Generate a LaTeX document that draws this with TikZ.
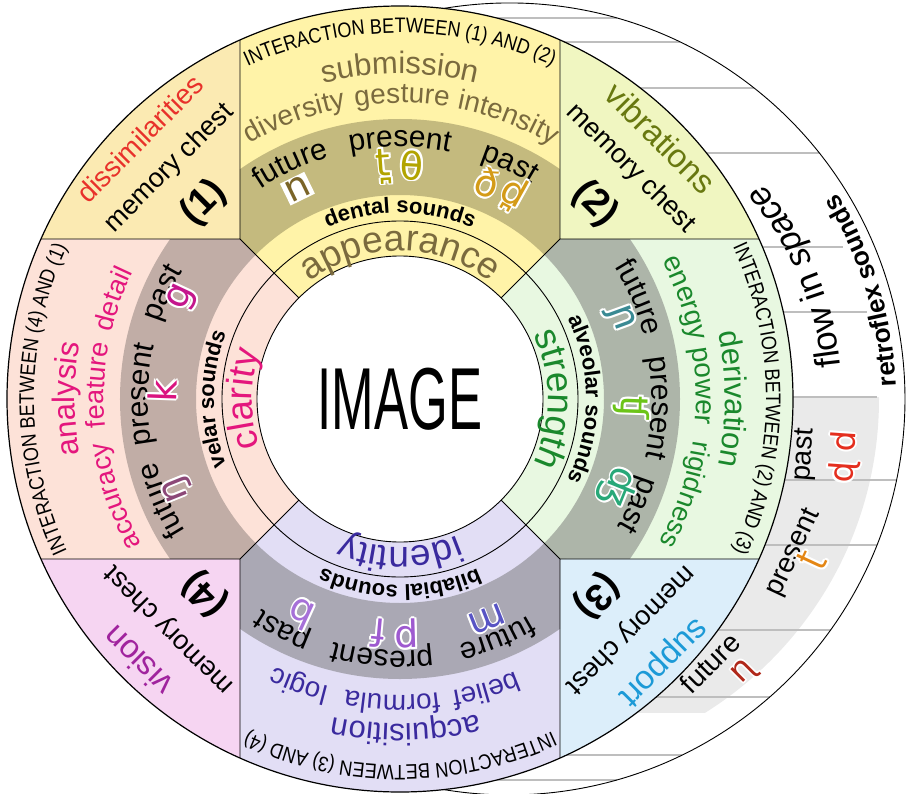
\documentclass[tikz,border=0pt]{standalone}
\usepackage{fontspec}
\setmainfont{Liberation Sans}
\newfontfamily\ipafont{DejaVu Sans}
\newfontfamily\narrowfont[FakeStretch=0.86]{Liberation Sans}
\usetikzlibrary{decorations.text}

\definecolor{fillone}{RGB}{251,234,178}
\definecolor{filltwo}{RGB}{240,246,193}
\definecolor{fillthree}{RGB}{220,238,250}
\definecolor{fillfour}{RGB}{246,213,242}
\definecolor{armtop}{RGB}{255,243,168}
\definecolor{armright}{RGB}{232,248,225}
\definecolor{armbottom}{RGB}{226,222,245}
\definecolor{armleft}{RGB}{253,226,216}
\definecolor{bandtop}{RGB}{196,186,126}
\definecolor{bandright}{RGB}{173,181,169}
\definecolor{bandbottom}{RGB}{170,168,180}
\definecolor{bandleft}{RGB}{193,173,166}
\definecolor{bandretro}{RGB}{234,234,234}
\definecolor{rulegray}{RGB}{190,190,190}
\definecolor{txttop}{RGB}{122,106,62}
\definecolor{txtleft}{RGB}{228,22,125}
\definecolor{txtright}{RGB}{26,136,44}
\definecolor{txtbottom}{RGB}{58,42,158}
\definecolor{cdissim}{RGB}{232,49,42}
\definecolor{cvibr}{RGB}{104,120,16}
\definecolor{csupport}{RGB}{28,154,215}
\definecolor{cvision}{RGB}{160,36,158}
\definecolor{sndn}{RGB}{122,100,40}
\definecolor{sndtheta}{RGB}{178,164,0}
\definecolor{sndeth}{RGB}{212,155,24}
\definecolor{sndeng}{RGB}{140,72,120}
\definecolor{sndk}{RGB}{218,20,128}
\definecolor{sndg}{RGB}{196,22,140}
\definecolor{sndny}{RGB}{58,138,148}
\definecolor{sndch}{RGB}{108,196,24}
\definecolor{sndj}{RGB}{40,168,120}
\definecolor{sndm}{RGB}{88,84,196}
\definecolor{sndp}{RGB}{158,90,208}
\definecolor{sndb}{RGB}{166,112,216}
\definecolor{sndrn}{RGB}{176,40,26}
\definecolor{sndrt}{RGB}{228,134,20}
\definecolor{sndrd}{RGB}{228,46,30}

\newcommand\fs[1]{\fontsize{#1}{#1}\selectfont}
% word on a clockwise arc round the centre, tops outward
\newcommand\arcword[4]{%
  \path[decorate,decoration={text along path,text align=center,text={|#1|#4}}]
    ({#3+80}:#2) arc[start angle={#3+80},end angle={#3-80},radius=#2];}
% word on a counter-clockwise arc round the outer centre, tops inward
\newcommand\outword[4]{%
  \path[shift={(109,0)},decorate,decoration={text along path,text align=center,text={|#1|#4}}]
    ({#3-40}:#2) arc[start angle={#3-40},end angle={#3+40},radius=#2];}
% letter with a white halo
\newcommand\snd[6][]{%
  \foreach \dx/\dy in {1.9/0,-1.9/0,0/1.9,0/-1.9,1.35/1.35,-1.35/1.35,1.35/-1.35,-1.35/-1.35}
    \node[sound,#1,text=white,rotate=#4,xshift=\dx,yshift=\dy] at #3 {#6};
  \node[sound,#1,text=#5,rotate=#4] (#2) at #3 {#6};}
\newcommand\armsnd[5]{\snd{#1}{(#2:#3)}{#2-90}{#4}{#5}}

\tikzset{
  sound/.style={font=\ipafont\fs{38},inner sep=0pt},
  corner/.style={font=\fs{27}},
  keyword/.style={font=\fs{33}},
  number/.style={font=\bfseries\fs{38}},
  retro/.style={font=\fs{28}},
  rule/.style={draw=rulegray,line width=1.1pt},
  border/.style={draw=black,line width=0.9pt},
}

\begin{document}
\begin{tikzpicture}[x=1pt,y=1pt]
\useasboundingbox (-400,399) rectangle (510,-394);

% retroflex band and ruled lines
\begin{scope}
  \clip (109,0) circle[radius=370];
  \fill[bandretro] (0,2) rectangle (480,-314);
\end{scope}
\foreach \y/\xa/\xb in {381/96.4/217, 357/164.3/280.4, 311/240.3/354.1, 246/306.5/419.3,
    152/362.4/443, 87/383.2/467, 2/393/477, -81/384.6/496.6, -146/364.9/477.1,
    -231/317.9/430.6, -298/256.2/369.8, -356/166.5/282.4, -381/96.4/217}
  \draw[rule] (\xa,\y) -- (\xb,\y);
\draw[border,shift={(109,0)}] (99.5:396) arc[start angle=99.5,end angle=-99.5,radius=396];

% corners, arms and dark bands
\foreach \a/\arm/\corner/\band in {0/armtop/fillone/bandtop, -90/armright/filltwo/bandright,
    180/armbottom/fillthree/bandbottom, 90/armleft/fillfour/bandleft}{
  \begin{scope}[rotate=\a]
    \fill[\corner] (-160,160) -- (114:393) arc[start angle=114,end angle=156,radius=393] -- cycle;
    \fill[\arm] (0,0) -- (-160,160) -- (114:393) arc[start angle=114,end angle=66,radius=393] -- (160,160) -- cycle;
    \clip (0,0) -- (-160,160) -- (-160,360) -- (160,360) -- (160,160) -- cycle;
    \fill[\band,even odd rule] (0,0) circle[radius=280] (0,0) circle[radius=204];
  \end{scope}
}
\fill[white] (0,0) circle[radius=143];

% outlines
\draw[border,line width=1.2pt] (0,0) circle[radius=393];
\draw[border] (0,0) circle[radius=143];
\draw[border] (0,0) circle[radius=178];
\foreach \a in {0,90,180,270}
  \draw[border,rotate=\a] (-160,359) -- (-160,160) -- (-359,160) (135:226.3) -- (135:143);

\node (image) at (0,0) {\fs{88}\scalebox{0.58}[1]{IMAGE}};

% top arm
\arcword{\narrowfont\fs{21}}{366}{90}{INTERACTION BETWEEN (1) AND (2)}
\arcword{\fs{31}\color{txttop}}{325}{90}{submission}
\arcword{\fs{28}\color{txttop}}{296}{110.5}{diversity}
\arcword{\fs{28}\color{txttop}}{296}{89.6}{gesture}
\arcword{\fs{28}\color{txttop}}{296}{69}{intensity}
\arcword{\fs{30}}{252}{115}{future}
\arcword{\fs{30}}{252}{90}{present}
\arcword{\fs{30}}{252}{65}{past}
\arcword{\bfseries\fs{22}}{186}{90}{dental sounds}
\arcword{\fs{37}\color{txttop}}{148}{90}{appearance}
\node[sound,fill=white,text=sndn,rotate=26,inner sep=1.5pt] (dentn) at (116:234) {n};
\armsnd{dentt}{94}{233}{sndtheta}{t̪}
\armsnd{dentth}{87}{234}{sndtheta}{θ}
\armsnd{denteth}{68}{233}{sndeth}{ð}
\armsnd{dentd}{61}{234}{sndeth}{d̪}

% left arm
\arcword{\narrowfont\fs{21}}{366}{180}{INTERACTION BETWEEN (4) AND (1)}
\arcword{\fs{31}\color{txtleft}}{325}{180}{analysis}
\arcword{\fs{27}\color{txtleft}}{296}{198.9}{accuracy}
\arcword{\fs{27}\color{txtleft}}{296}{177.3}{feature}
\arcword{\fs{27}\color{txtleft}}{296}{160.8}{detail}
\arcword{\fs{30}}{252}{203}{future}
\arcword{\fs{30}}{252}{179}{present}
\arcword{\fs{30}}{252}{156}{past}
\arcword{\bfseries\fs{22}}{186}{180}{velar sounds}
\arcword{\fs{37}\color{txtleft}}{148}{180}{clarity}
\armsnd{velng}{202}{240}{sndeng}{ŋ}
\armsnd{velk}{178}{238}{sndk}{k}
\armsnd{velg}{155}{240}{sndg}{g}

% right arm
\arcword{\narrowfont\fs{21}}{366}{0}{INTERACTION BETWEEN (2) AND (3)}
\arcword{\fs{31}\color{txtright}}{325}{0}{derivation}
\arcword{\fs{28}\color{txtright}}{296}{19.5}{energy}
\arcword{\fs{28}\color{txtright}}{296}{2.5}{power}
\arcword{\fs{27}\color{txtright}}{296}{-18.5}{rigidness}
\arcword{\fs{30}}{252}{23}{future}
\arcword{\fs{30}}{252}{-2}{present}
\arcword{\fs{30}}{252}{-24}{past}
\arcword{\bfseries\fs{22}}{186}{0}{alveolar sounds}
\arcword{\fs{37}\color{txtright}}{148}{0}{strength}
\armsnd{alvny}{20}{234}{sndny}{ɲ}
\armsnd{alvch}{-2}{232}{sndch}{ʧ}
\armsnd{alvj}{-22}{235}{sndj}{ʤ}

% bottom arm
\arcword{\narrowfont\fs{21}}{366}{-90}{INTERACTION BETWEEN (3) AND (4)}
\arcword{\fs{31}\color{txtbottom}}{325}{-89}{acquisition}
\arcword{\fs{28}\color{txtbottom}}{296}{-73.5}{belief}
\arcword{\fs{28}\color{txtbottom}}{296}{-91.5}{formula}
\arcword{\fs{28}\color{txtbottom}}{296}{-109.5}{logic}
\arcword{\fs{30}}{252}{-68}{future}
\arcword{\fs{30}}{252}{-94}{present}
\arcword{\fs{30}}{252}{-117}{past}
\arcword{\bfseries\fs{22}}{186}{-90}{bilabial sounds}
\arcword{\fs{37}\color{txtbottom}}{148}{-90}{identity}
\armsnd{labm}{-68.5}{237}{sndm}{m}
\armsnd{labp}{-88.3}{235}{sndp}{p}
\armsnd{labf}{-95.3}{235}{sndp}{f}
\armsnd{labb}{-114.7}{237}{sndb}{b}

% corners
\node[corner,text=cdissim,font=\fs{28},rotate=45] (dissim) at (135:368) {dissimilarities};
\node[corner,rotate=45] (chestone) at (135:326) {memory chest};
\node[number,rotate=45] (numone) at (135:277) {(1)};
\node[keyword,text=cvibr,rotate=-45] (vibr) at (45:369) {vibrations};
\node[corner,rotate=-45] (chesttwo) at (45:326) {memory chest};
\node[number,rotate=-45] (numtwo) at (45:276) {(2)};
\node[keyword,text=csupport,rotate=-135] (support) at (-45:371) {support};
\node[corner,rotate=-135] (chestthree) at (-45:326) {memory chest};
\node[number,rotate=-135] (numthree) at (-45:279) {(3)};
\node[keyword,text=cvision,rotate=135] (vision) at (-135:371) {vision};
\node[corner,rotate=135] (chestfour) at (-135:326) {memory chest};
\node[number,rotate=135] (numfour) at (-135:276) {(4)};

% retroflex side
\outword{\fs{35}}{333}{23}{flow in |\fs{35}\itshape|space}
\outword{\bfseries\fs{26}}{387}{17}{retroflex sounds}
\node[retro,rotate=45] (rfuture) at (310,-264) {future};
\node[retro,rotate=65] (rpresent) at (394,-154) {present};
\node[retro,rotate=86] (rpast) at (405,-56) {past};
\snd[font=\ipafont\fs{33}]{retn}{(345,-274)}{45}{sndrn}{ɳ}
\snd[font=\ipafont\fs{33}]{rett}{(412,-161)}{65}{sndrt}{ʈ}
\snd[font=\ipafont\fs{33}]{retd}{(445,-58)}{86}{sndrd}{ɖ d}
\end{tikzpicture}
\end{document}
